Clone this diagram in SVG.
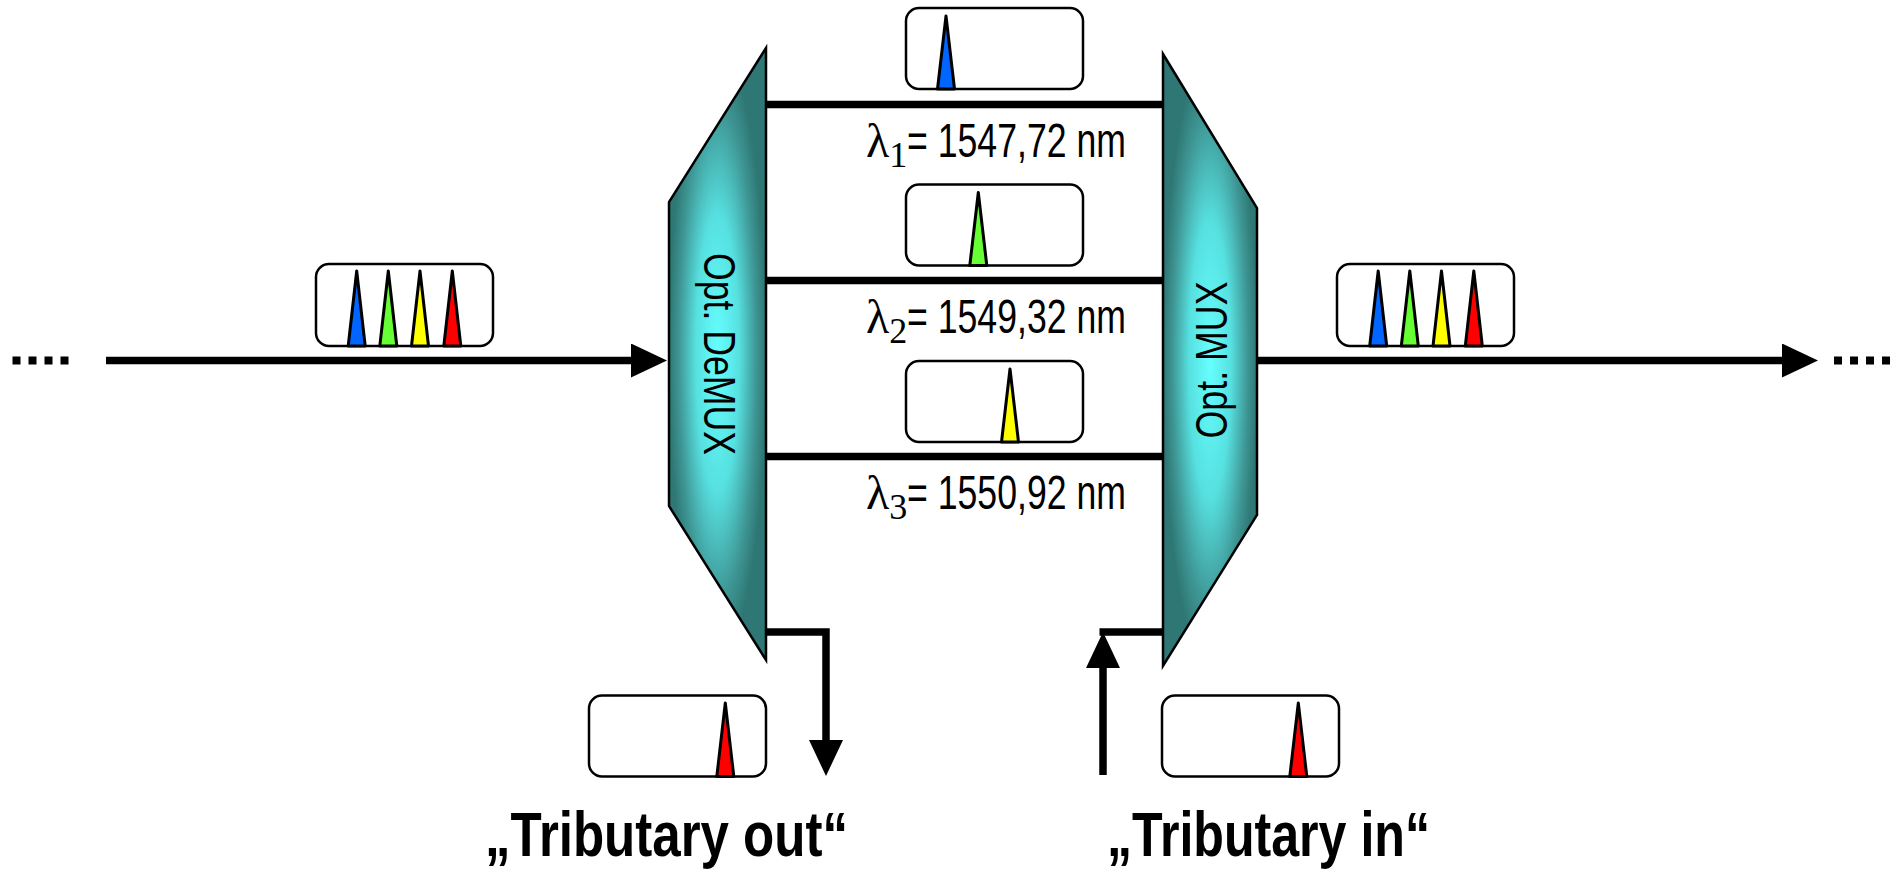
<svg xmlns="http://www.w3.org/2000/svg" width="1899" height="869" viewBox="0 0 1899 869">
  <defs>
    <radialGradient id="prism" cx="0.5" cy="0.5" r="0.5">
      <stop offset="0" stop-color="#66ffff"/>
      <stop offset="0.45" stop-color="#57e0e0"/>
      <stop offset="0.8" stop-color="#3e9694"/>
      <stop offset="1" stop-color="#2e7774"/>
    </radialGradient>
    <!-- arrowhead attached at its base to the end of a wire -->
    <marker id="arrow" viewBox="0 0 36 34" refX="0" refY="17" markerWidth="36" markerHeight="34" markerUnits="userSpaceOnUse" orient="auto">
      <path d="M0,0 L36,17 L0,34 Z" fill="#000"/>
    </marker>
  </defs>
  <style>
    .box { fill: #fff; stroke: #000; stroke-width: 2.5; }
    .peak { stroke: #000; stroke-width: 3; stroke-linejoin: round; }
    .blue { fill: #0066ff; }
    .green { fill: #66ff33; }
    .yellow { fill: #ffff00; }
    .red { fill: #ff0000; }
    .prism { fill: url(#prism); stroke: #000; stroke-width: 2.5; stroke-linejoin: miter; }
    .wire { fill: none; stroke: #000; stroke-width: 7.5; }
    .dots { fill: none; stroke: #000; stroke-width: 8; stroke-dasharray: 8 8; }
    .dev { font-family: "Liberation Sans", Arial, sans-serif; font-size: 45px; fill: #000; }
    .lam { font-family: "Liberation Serif", "Times New Roman", serif; fill: #000; }
    .wl { font-family: "Liberation Sans", Arial, sans-serif; font-size: 48px; fill: #000; }
    .trib { font-family: "Liberation Sans", Arial, sans-serif; font-size: 63px; font-weight: bold; fill: #000; }
  </style>

  <!-- connectors -->
  <g id="connectors">
    <line class="dots" x1="12.5" y1="360.5" x2="72" y2="360.5"/>
    <line class="wire" x1="106" y1="360.5" x2="631" y2="360.5" marker-end="url(#arrow)"/>
    <line class="wire" x1="766" y1="104.5" x2="1163" y2="104.5"/>
    <line class="wire" x1="766" y1="280.5" x2="1163" y2="280.5"/>
    <line class="wire" x1="766" y1="456.5" x2="1163" y2="456.5"/>
    <polyline class="wire" points="766,632 826,632 826,740" marker-end="url(#arrow)"/>
    <line class="wire" x1="1099.5" y1="632" x2="1163" y2="632"/>
    <line class="wire" x1="1103" y1="775" x2="1103" y2="668" marker-end="url(#arrow)"/>
    <line class="wire" x1="1257" y1="360.5" x2="1782" y2="360.5" marker-end="url(#arrow)"/>
    <line class="dots" x1="1834" y1="360.5" x2="1893" y2="360.5"/>
  </g>

  <!-- optical demultiplexer -->
  <g id="demux">
    <polygon class="prism" points="766,48 669,202 669,506 766,660"/>
    <text class="dev" transform="translate(704,354) rotate(90)" text-anchor="middle" textLength="202" lengthAdjust="spacingAndGlyphs">Opt. DeMUX</text>
  </g>

  <!-- optical multiplexer -->
  <g id="mux">
    <polygon class="prism" points="1163,54 1257,208 1257,515 1163,666"/>
    <text class="dev" transform="translate(1227,360) rotate(-90)" text-anchor="middle" textLength="157" lengthAdjust="spacingAndGlyphs">Opt. MUX</text>
  </g>

  <!-- spectrum on the input fibre -->
  <g id="spectrum-in">
    <rect class="box" x="316" y="264" width="177" height="82" rx="13"/>
    <polygon class="peak blue" points="348.2,346 356.7,271 365.2,346"/>
    <polygon class="peak green" points="379.8,346 388.3,271 396.8,346"/>
    <polygon class="peak yellow" points="411.5,346 420,271 428.5,346"/>
    <polygon class="peak red" points="443.8,346 452.3,271 460.8,346"/>
  </g>

  <!-- spectrum on the output fibre -->
  <g id="spectrum-out">
    <rect class="box" x="1337" y="264" width="177" height="82" rx="13"/>
    <polygon class="peak blue" points="1369.7,346 1378.2,271 1386.7,346"/>
    <polygon class="peak green" points="1401.3,346 1409.8,271 1418.3,346"/>
    <polygon class="peak yellow" points="1433,346 1441.5,271 1450,346"/>
    <polygon class="peak red" points="1465.3,346 1473.8,271 1482.3,346"/>
  </g>

  <!-- channel 1 -->
  <g id="channel-1">
    <rect class="box" x="906" y="8" width="177" height="81" rx="13"/>
    <polygon class="peak blue" points="937.5,89 946,16 954.5,89"/>
    <text x="866" y="157"><tspan class="lam" font-size="48">λ</tspan><tspan class="lam" font-size="36" dy="10">1</tspan></text>
    <text class="wl" x="907" y="157" textLength="219" lengthAdjust="spacingAndGlyphs">= 1547,72 nm</text>
  </g>

  <!-- channel 2 -->
  <g id="channel-2">
    <rect class="box" x="906" y="184.5" width="177" height="81" rx="13"/>
    <polygon class="peak green" points="969.8,265.5 978.3,192.5 986.8,265.5"/>
    <text x="866" y="333"><tspan class="lam" font-size="48">λ</tspan><tspan class="lam" font-size="36" dy="10">2</tspan></text>
    <text class="wl" x="907" y="333" textLength="219" lengthAdjust="spacingAndGlyphs">= 1549,32 nm</text>
  </g>

  <!-- channel 3 -->
  <g id="channel-3">
    <rect class="box" x="906" y="361" width="177" height="81" rx="13"/>
    <polygon class="peak yellow" points="1001.5,442 1010,369 1018.5,442"/>
    <text x="866" y="509"><tspan class="lam" font-size="48">λ</tspan><tspan class="lam" font-size="36" dy="10">3</tspan></text>
    <text class="wl" x="907" y="509" textLength="219" lengthAdjust="spacingAndGlyphs">= 1550,92 nm</text>
  </g>

  <!-- dropped channel -->
  <g id="tributary-out">
    <rect class="box" x="589" y="695.5" width="177" height="81" rx="13"/>
    <polygon class="peak red" points="716.8,776.5 725.3,703 733.8,776.5"/>
    <text class="trib" x="485" y="856" textLength="363" lengthAdjust="spacingAndGlyphs">„Tributary out“</text>
  </g>

  <!-- added channel -->
  <g id="tributary-in">
    <rect class="box" x="1162" y="695.5" width="177" height="81" rx="13"/>
    <polygon class="peak red" points="1289.8,776.5 1298.3,703 1306.8,776.5"/>
    <text class="trib" x="1107" y="856" textLength="323" lengthAdjust="spacingAndGlyphs">„Tributary in“</text>
  </g>
</svg>
